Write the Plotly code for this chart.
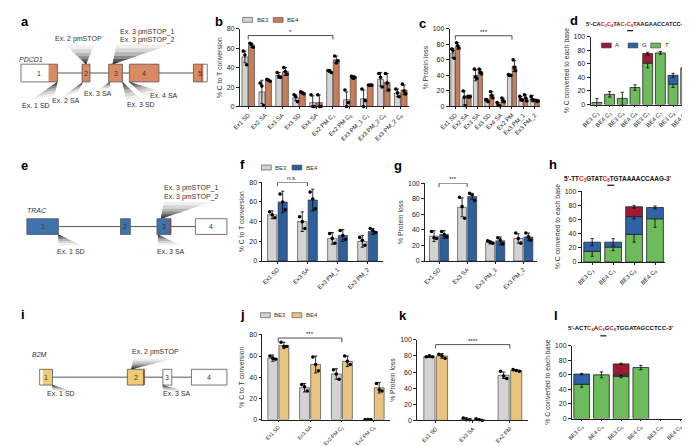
import plotly.graph_objects as go

W, H = 690, 446
FONT = "Arial, Liberation Sans, sans-serif"

# ---------------- data ----------------
b_cats = ["Ex1 SD", "Ex2 SA", "Ex3 SA", "Ex3 SD", "Ex4 SA", "Ex2 PM C<sub>1</sub>", "Ex2 PM C<sub>6</sub>",
          "Ex3 PM_1 C<sub>1</sub>", "Ex3 PM_2 C<sub>5</sub>", "Ex3 PM_2 C<sub>6</sub>"]
b_be3 = [51, 15, 32, 9, 4, 36, 7, 8, 28, 14]
b_be4 = [63, 27, 36, 14, 4, 48, 30, 22, 25, 17]
b_be3_err = [6, 12, 3, 3, 7, 1, 8, 9, 7, 4]
b_be4_err = [2, 1, 4, 1, 8, 4, 2, 0.5, 9, 5]
b_be3_pts = [[57, 53, 43], [24, 21, 1], [35, 31, 30], [12, 10, 5], [12, 0, 0], [37, 37, 35], [17, 0, 4],
             [18, 0, 6], [34, 30, 20], [18, 14, 10]]
b_be4_pts = [[65, 64, 61], [28, 27, 26], [40, 36, 33], [15, 14, 13], [12, 0, 0], [52, 45, 47], [31, 29, 30],
             [22, 22, 22], [34, 24, 17], [23, 16, 13]]

c_cats = ["Ex1 SD", "Ex2 SA", "Ex3 SA", "Ex3 SD", "Ex4 SA", "Ex2 PM", "Ex3 PM_1", "Ex3 PM_2"]
c_be3 = [69, 11, 40, 8, 3, 40, 10, 10]
c_be4 = [78, 12, 45, 15, 8, 52, 11, 7]
c_be3_err = [6, 9, 7, 2, 2, 1, 3, 4]
c_be4_err = [4, 1, 3, 4, 3, 7, 4, 2]
c_be3_pts = [[74, 72, 62], [20, 12, 1], [48, 38, 36], [9, 8, 6], [5, 2, 1], [41, 40, 40], [13, 9, 8], [13, 9, 8]]
c_be4_pts = [[82, 78, 75], [13, 12, 13], [48, 44, 42], [19, 14, 11], [11, 8, 6], [60, 50, 46], [15, 11, 7],
             [8, 7, 7]]

d_cats = ["BE3 C<sub>3</sub>", "BE4 C<sub>3</sub>", "BE3 C<sub>4</sub>", "BE4 C<sub>4</sub>",
          "BE3 C<sub>7</sub>", "BE4 C<sub>7</sub>", "BE3 C<sub>8</sub>", "BE4 C<sub>8</sub>"]
d_T = [3, 15, 9, 25, 61, 76, 30, 54]
d_G = [None, None, None, None, None, None, 13, None]
d_A = [None, None, None, None, 14, None, None, None]
d_T_err = [6, 4, 9, 4, 7, 2, 5, 3]
d_G_err = [None, None, None, None, None, None, 3, None]
d_A_err = [None, None, None, None, 2, None, None, None]

f_cats = ["Ex1 SD", "Ex3 SA", "Ex3 PM_1", "Ex3 PM_2"]
f_be3 = [47, 40, 23, 20]
f_be4 = [60, 62, 26, 30]
f_be3_err = [4, 10, 6, 6]
f_be4_err = [11, 11, 6, 3]
f_be3_pts = [[50, 47, 44], [45, 40, 33], [28, 23, 18], [24, 21, 16]]
f_be4_pts = [[68, 60, 52], [70, 63, 53], [31, 26, 22], [33, 31, 29]]

g_cats = ["Ex1 SD", "Ex3 SA", "Ex3 PM_1", "Ex3 PM_2"]
g_be3 = [32, 69, 24, 29]
g_be4 = [34, 83, 26, 31]
g_be3_err = [7, 12, 2, 6]
g_be4_err = [5, 4, 5, 5]
g_be3_pts = [[38, 30, 29], [82, 70, 55], [26, 24, 23], [36, 29, 23]]
g_be4_pts = [[38, 34, 31], [87, 85, 78], [30, 27, 22], [36, 31, 27]]

h_cats = ["BE3 C<sub>3</sub>", "BE4 C<sub>3</sub>", "BE3 C<sub>8</sub>", "BE4 C<sub>8</sub>"]
h_T = [15, 21, 39, 61]
h_G = [13, 7, 25, 16]
h_A = [None, None, 14, None]
h_T_err = [7, 5, 11, 12]
h_G_err = [5, 5, 3, 2]
h_A_err = [None, None, 2, None]

j_cats = ["Ex1 SD", "Ex3 SA", "Ex2 PM C<sub>1</sub>", "Ex2 PM C<sub>6</sub>"]
j_be3 = [58, 30, 43, 0]
j_be4 = [70, 52, 55, 30]
j_be3_err = [3, 4, 5, None]
j_be4_err = [3, 8, 5, 5]
j_be3_pts = [[60, 58, 57], [33, 31, 27], [47, 43, 38], [0, 0, 0]]
j_be4_pts = [[73, 69, 69], [59, 52, 46], [60, 55, 52], [34, 28, 27]]

k_cats = ["Ex1 SD", "Ex3 SA", "Ex2 PM"]
k_be3 = [79, 2, 56]
k_be4 = [80, 1, 62]
k_be3_err = [1, 1.5, 4]
k_be4_err = [3, 1, 1]
k_be3_pts = [[79, 80, 79], [3, 1, 1], [61, 55, 52]]
k_be4_pts = [[82, 80, 77], [2, 1, 0], [63, 62, 61]]

l_cats = ["BE3 C<sub>4</sub>", "BE4 C<sub>4</sub>", "BE3 C<sub>6</sub>", "BE4 C<sub>6</sub>",
          "BE3 C<sub>8</sub>", "BE4 C<sub>8</sub>"]
l_T = [47, 60, 58, 70, None, None]
l_G = [14, None, 2, None, None, None]
l_A = [None, None, 15, None, None, None]
l_T_err = [4, 4, 2, 3, None, None]
l_G_err = [1, None, 1, None, None, None]
l_A_err = [None, None, 1, None, None, None]

# ---------------- styles ----------------
GRAY = "#d3d3d3"
PD_BAR = "#c77c5a"
TR_BAR = "#2f5f99"
B2_BAR = "#e8c47f"
PD_EX = "#d98a62"
TR_EX = "#3f72ad"
B2_EX = "#f1ca74"
A_COL = "#9c1b33"
G_COL = "#2f63a7"
T_COL = "#6dbb5c"
RED = "#e3241c"

fig = go.Figure()

panels = [
    ("b", 225, 397, 17, 96, 80, "% C to T conversion", 6),
    ("c", 438, 530, 17, 96, 100, "% Protein loss", 6),
    ("d", 581, 684, 25, 94, 100, "% C converted to each base", 6),
    ("f", 248, 370, 173, 253, 80, "% C to T conversion", 6),
    ("g", 413, 527, 174, 253, 100, "% Protein loss", 6),
    ("h", 572, 657, 182, 254, 100, "% C converted to each base", 6),
    ("j", 248, 377, 328, 414, 80, "% C to T conversion", 5.2),
    ("k", 405, 518, 333, 415, 100, "% Protein loss", 5.6),
    ("l", 562, 682, 339, 413, 100, "% C converted to each base", 5.6),
]
ncats = {"b": len(b_cats), "c": len(c_cats), "d": len(d_cats), "f": len(f_cats), "g": len(g_cats),
         "h": len(h_cats), "j": len(j_cats), "k": len(k_cats), "l": len(l_cats)}
catlists = {"b": b_cats, "c": c_cats, "d": d_cats, "f": f_cats, "g": g_cats, "h": h_cats,
            "j": j_cats, "k": k_cats, "l": l_cats}
axis_ids = {}
for n, (key, x0, x1, yt, yb, ymax, ytitle, tfs) in enumerate(panels, start=1):
    sfx = "" if n == 1 else str(n)
    axis_ids[key] = ("x" + sfx, "y" + sfx)
    nc = ncats[key]
    fig.update_layout(**{
        "xaxis" + sfx: dict(domain=[x0 / W, x1 / W], anchor="y" + sfx, range=[-0.5, nc - 0.5],
                            tickvals=list(range(nc)), ticktext=catlists[key], tickangle=-45,
                            tickfont=dict(size=tfs, color="#222", family=FONT), showline=True,
                            linecolor="#222", linewidth=0.8, ticks="outside", ticklen=2, tickwidth=0.7,
                            tickcolor="#222", showgrid=False, zeroline=False, fixedrange=True),
        "yaxis" + sfx: dict(domain=[1 - yb / H, 1 - yt / H], anchor="x" + sfx, range=[0, ymax],
                            tickvals=list(range(0, ymax + 1, 20)), tickfont=dict(size=7, color="#222", family=FONT),
                            showline=True, linecolor="#222", linewidth=0.8, ticks="outside", ticklen=3,
                            tickwidth=0.7, tickcolor="#222", showgrid=False, zeroline=False, fixedrange=True,
                            title=dict(text=ytitle, font=dict(size=6.8, color="#333", family=FONT), standoff=3)),
    })


def err(arr):
    return dict(type="data", array=arr, visible=True, color="black", thickness=0.8, width=1.6)


def grouped(key, v3, v4, e3, e4, p3, p4, col, w):
    xa, ya = axis_ids[key]
    xs = list(range(len(v3)))
    for vals, errs, pts, off, c in [(v3, e3, p3, -w - 0.02, GRAY), (v4, e4, p4, 0.02, col)]:
        fig.add_trace(go.Bar(x=xs, y=vals, width=w, offset=off,
                             marker=dict(color=c, line=dict(color="#333", width=0.6)),
                             error_y=err(errs), xaxis=xa, yaxis=ya, showlegend=False))
        dx, dy = [], []
        for i, rep in enumerate(pts):
            for j, v in enumerate(rep):
                dx.append(i + off + w / 2 + (j - 1) * w * 0.28)
                dy.append(v)
        fig.add_trace(go.Scatter(x=dx, y=dy, mode="markers", marker=dict(size=3.6, color="black"),
                                 xaxis=xa, yaxis=ya, showlegend=False, cliponaxis=False))


def stacked(key, layers, w):
    xa, ya = axis_ids[key]
    n = len(layers[0][0])
    cum = [0] * n
    for vals, errs, c in layers:
        fig.add_trace(go.Bar(x=list(range(n)), y=vals, base=list(cum), width=w, offset=-w / 2,
                             marker=dict(color=c, line=dict(color="#222", width=0.8)),
                             error_y=err(errs), xaxis=xa, yaxis=ya, showlegend=False))
        cum = [cb + (v or 0) for cb, v in zip(cum, vals)]


grouped("b", b_be3, b_be4, b_be3_err, b_be4_err, b_be3_pts, b_be4_pts, PD_BAR, 0.35)
grouped("c", c_be3, c_be4, c_be3_err, c_be4_err, c_be3_pts, c_be4_pts, PD_BAR, 0.38)
stacked("d", [(d_T, d_T_err, T_COL), (d_G, d_G_err, G_COL), (d_A, d_A_err, A_COL)], 0.78)
grouped("f", f_be3, f_be4, f_be3_err, f_be4_err, f_be3_pts, f_be4_pts, TR_BAR, 0.31)
grouped("g", g_be3, g_be4, g_be3_err, g_be4_err, g_be3_pts, g_be4_pts, TR_BAR, 0.32)
stacked("h", [(h_T, h_T_err, T_COL), (h_G, h_G_err, G_COL), (h_A, h_A_err, A_COL)], 0.8)
grouped("j", j_be3, j_be4, j_be3_err, j_be4_err, j_be3_pts, j_be4_pts, B2_BAR, 0.31)
grouped("k", k_be3, k_be4, k_be3_err, k_be4_err, k_be3_pts, k_be4_pts, B2_BAR, 0.3)
stacked("l", [(l_T, l_T_err, T_COL), (l_G, l_G_err, G_COL), (l_A, l_A_err, A_COL)], 0.8)


def bracket(key, x0, x1, y, label, drop):
    xa, ya = axis_ids[key]
    fig.add_shape(type="path", path=f"M {x0},{y - drop} L {x0},{y} L {x1},{y} L {x1},{y - drop}",
                  xref=xa, yref=ya, line=dict(color="#222", width=0.8))
    fig.add_annotation(x=(x0 + x1) / 2, y=y, xref=xa, yref=ya, text=label, showarrow=False,
                       yanchor="bottom", yshift=-1, font=dict(size=6, color="#222", family=FONT))


bracket("b", 0, 5, 73, "*", 4)
bracket("c", 0, 5, 91, "***", 5)
bracket("f", 0, 1, 80, "n.s.", 4)
bracket("g", 0, 1, 100, "***", 5)
bracket("j", 0, 2, 77, "***", 4)
bracket("k", 0, 2, 94, "****", 5)


# ---------------- paper helpers ----------------
def P(x, y):
    return x / W, 1 - y / H


def rect(x0, y0, x1, y1, fill, lc="#555", lw=0.8):
    a, b = P(x0, y1)
    c, d = P(x1, y0)
    fig.add_shape(type="rect", xref="paper", yref="paper", x0=a, y0=b, x1=c, y1=d, fillcolor=fill,
                  line=dict(color=lc, width=lw))


def line(x0, y0, x1, y1, col="#444", lw=0.8):
    a, b = P(x0, y0)
    c, d = P(x1, y1)
    fig.add_shape(type="line", xref="paper", yref="paper", x0=a, y0=b, x1=c, y1=d,
                  line=dict(color=col, width=lw))


def text(x, y, s, size=7, xanchor="left", yanchor="middle", color="#333"):
    a, b = P(x, y)
    fig.add_annotation(x=a, y=b, xref="paper", yref="paper", text=s, showarrow=False, xanchor=xanchor,
                       yanchor=yanchor, font=dict(size=size, color=color, family=FONT), borderpad=0)


def wedge(tip, b1, b2):
    layers = [(1.0, "#efefef"), (0.8, "#d6d6d6"), (0.6, "#b5b5b5"), (0.42, "#8a8a8a"), (0.26, "#5a5a5a"),
              (0.12, "#2e2e2e")]
    for frac, col in layers:
        p1 = (tip[0] + (b1[0] - tip[0]) * frac, tip[1] + (b1[1] - tip[1]) * frac)
        p2 = (tip[0] + (b2[0] - tip[0]) * frac, tip[1] + (b2[1] - tip[1]) * frac)
        pts = [P(*tip), P(*p1), P(*p2)]
        path = "M " + " L ".join(f"{x},{y}" for x, y in pts) + " Z"
        fig.add_shape(type="path", path=path, xref="paper", yref="paper", fillcolor=col,
                      line=dict(width=0))


def gene(exons, y0, y1, name, name_xy):
    ym = (y0 + y1) / 2
    line(exons[0][1], ym, exons[-1][0], ym, "#555", 1)
    for x0, x1, fills, lab in exons:
        rect(x0, y0, x1, y1, "white", lw=0)
        for fx0, fx1, fc in fills:
            rect(fx0, y0, fx1, y1, fc, lw=0)
        rect(x0, y0, x1, y1, "rgba(0,0,0,0)", "#555", 0.8)
        text((x0 + x1) / 2, ym, lab, 7, "center", "middle", "#333")
    text(name_xy[0], name_xy[1], f"<i>{name}</i>", 7, "left", "middle", "#333")


# ---- panel a : PDCD1 ----
wedge((69, 53), (49, 34), (77, 34))
wedge((96, 53), (100, 33), (155, 33))
wedge((40, 71), (14, 89), (37, 85))
wedge((66, 71), (44, 87), (61, 81))
wedge((93, 71), (82, 79), (94, 78))
wedge((106, 71), (110, 90), (124, 88))
wedge((113, 71), (128, 85), (145, 81))
gene([(3, 40, [(31, 40, PD_EX)], "1"), (65, 73, [(65, 73, PD_EX)], "2"), (92, 106, [(92, 106, PD_EX)], "3"),
      (113, 143, [(113, 143, PD_EX)], "4"), (178, 192, [(178, 188, PD_EX), (186, 187, RED)], "5")],
     53, 71, "PDCD1", (0, 48))
text(37, 27, "Ex. 2 pmSTOP")
text(102, 20, "Ex. 3 pmSTOP_1")
text(102, 28, "Ex. 3 pmSTOP_2")
text(3, 95, "Ex. 1 SD")
text(33, 90, "Ex. 2 SA")
text(66, 83, "Ex. 3 SA")
text(110, 94, "Ex. 3 SD")
text(133, 85, "Ex. 4 SA")

# ---- panel e : TRAC ----
wedge((41, 226), (41, 237), (64, 237))
wedge((142, 226), (142, 237), (164, 237))
wedge((145, 210), (148, 193), (196, 193))
gene([(9, 41, [(9, 41, TR_EX)], "1"), (104, 114, [(104, 114, TR_EX)], "2"),
      (141, 155, [(141, 155, TR_EX), (154, 155.5, RED)], "3"), (180, 212, [], "4")],
     210, 226, "TRAC", (8, 202))
text(147, 179, "Ex. 3 pmSTOP_1")
text(147, 188, "Ex. 3 pmSTOP_2")
text(39, 243, "Ex. 1 SD")
text(140, 243, "Ex. 3 SA")

# ---- panel i : B2M ----
wedge((35, 379), (35, 385), (57, 386))
wedge((147, 379), (147, 385), (170, 386))
wedge((115, 363), (117, 352), (158, 352))
gene([(22, 35, [(25, 35, B2_EX)], "1"), (111, 128, [(111, 128, B2_EX), (127, 128.5, RED)], "2"),
      (147, 156, [], "3"), (176, 212, [], "4")],
     363, 379, "B2M", (13, 348))
text(115, 345, "Ex. 2 pmSTOP")
text(28, 388, "Ex. 1 SD")
text(146, 388, "Ex. 3 SA")


# ---- legends ----
def legend_item(x, y, col, lab):
    rect(x, y - 2.5, x + 10, y + 2.5, col, "#444", 0.6)
    text(x + 13, y, lab, 6, "left", "middle", "#333")


legend_item(228, 8, GRAY, "BE3")
legend_item(259, 8, PD_BAR, "BE4")
legend_item(247, 158, GRAY, "BE3")
legend_item(278, 158, TR_BAR, "BE4")
legend_item(246, 308, GRAY, "BE3")
legend_item(278, 308, B2_BAR, "BE4")
legend_item(592, 34, A_COL, "A")
legend_item(619, 34, G_COL, "G")
legend_item(642, 34, T_COL, "T")


# ---- sequences ----
def red(s):
    return f"<span style='color:{RED}'>{s}</span>"


text(575, 13, "<b>5'-CA" + red("C<sub>3</sub>C<sub>4</sub>") + "TA" + red("C<sub>7</sub>C<sub>8</sub>")
     + "TAAGAACCATCC-3'</b>", 5.7, "left", "middle", "#111")
line(618, 19, 624, 19, "#111", 1.2)
text(553, 170, "<b>5'-TT" + red("C<sub>3</sub>") + "GTAT" + red("C<sub>8</sub>") + "TGTAAAACCAAG-3'</b>",
     6.4, "left", "middle", "#111")
line(598, 176, 605, 176, "#111", 1.2)
text(557, 322, "<b>5'-ACT" + red("C<sub>4</sub>") + "A" + red("C<sub>6</sub>") + "G" + red("C<sub>8</sub>")
     + "TGGATAGCCTCC-3'</b>", 6.0, "left", "middle", "#111")
line(591, 329, 597, 329, "#111", 1.2)

# ---- panel letters ----
for lab, x, y in [("a", 2, 1), ("b", 199, 1), ("c", 406, 3), ("d", 559, 0), ("e", 2, 147), ("f", 224, 146),
                  ("g", 381, 147), ("h", 538, 146), ("i", 2, 299), ("j", 224, 299), ("k", 386, 300),
                  ("l", 543, 300)]:
    text(x, y, f"<b>{lab}</b>", 13, "left", "top", "#000")

fig.update_layout(width=W, height=H, margin=dict(l=0, r=0, t=0, b=0), paper_bgcolor="white",
                  plot_bgcolor="white", barmode="group", showlegend=False, font=dict(family=FONT))

fig.write_html("out.html")
